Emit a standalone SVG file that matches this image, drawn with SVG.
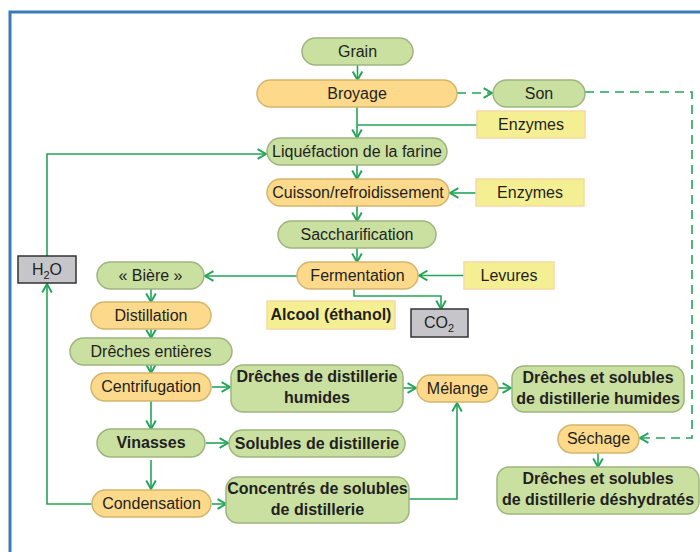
<svg xmlns="http://www.w3.org/2000/svg" width="700" height="552" viewBox="0 0 700 552">
<defs>
<marker id="ah" markerUnits="userSpaceOnUse" markerWidth="12" markerHeight="12" refX="8" refY="5" orient="auto" viewBox="0 0 10 10">
<path d="M1,1 L8,5 L1,9" fill="none" stroke="#23a559" stroke-width="1.6"/>
</marker>
<style>
text{font-family:"Liberation Sans",Arial,sans-serif;font-size:16px;fill:#231f20;text-anchor:middle}
.b{font-weight:bold}
.g{fill:#c9e0a1;stroke:#9db57d;stroke-width:1.5}
.o{fill:#fcd98b;stroke:#d4b56c;stroke-width:1.5}
.y{fill:#f5ef93;stroke:#f8d9a0;stroke-width:1.5}
.x{fill:#c6c6ca;stroke:#333;stroke-width:1.5}
.c{fill:none;stroke:#23a559;stroke-width:1.6}
.d{fill:none;stroke:#23a559;stroke-width:1.6;stroke-dasharray:9 6}
</style>
</defs>
<rect width="700" height="552" fill="#fff"/>
<path d="M10,560 V12 H705" fill="none" stroke="#3c79bb" stroke-width="3"/>

<g id="connectors">
<path class="c" d="M357.5,65 V80" marker-end="url(#ah)"/>
<path class="c" d="M357,107 V138" marker-end="url(#ah)"/>
<path class="c" d="M477,125 H357"/>
<path class="d" d="M457,93 H492" marker-end="url(#ah)"/>
<path class="d" d="M585,92 H692 V438 H640" marker-end="url(#ah)"/>
<path class="c" d="M357,165 V179" marker-end="url(#ah)"/>
<path class="c" d="M476,193 H450" marker-end="url(#ah)"/>
<path class="c" d="M357,206 V221" marker-end="url(#ah)"/>
<path class="c" d="M357,248 V262" marker-end="url(#ah)"/>
<path class="c" d="M464,275.5 H419" marker-end="url(#ah)"/>
<path class="c" d="M297,276 H205" marker-end="url(#ah)"/>
<path class="c" d="M354,289 V296 H441 V309" marker-end="url(#ah)"/>
<path class="c" d="M151,289 V302" marker-end="url(#ah)"/>
<path class="c" d="M151,329 V338" marker-end="url(#ah)"/>
<path class="c" d="M151,365 V373" marker-end="url(#ah)"/>
<path class="c" d="M212,387 H230" marker-end="url(#ah)"/>
<path class="c" d="M403,388 H416" marker-end="url(#ah)"/>
<path class="c" d="M498,388 H511" marker-end="url(#ah)"/>
<path class="c" d="M151,401 V429" marker-end="url(#ah)"/>
<path class="c" d="M206,443 H228" marker-end="url(#ah)"/>
<path class="c" d="M151,460 V489" marker-end="url(#ah)"/>
<path class="c" d="M212,504 H226" marker-end="url(#ah)"/>
<path class="c" d="M409,499 H457 V403" marker-end="url(#ah)"/>
<path class="c" d="M92,504 H47 V284" marker-end="url(#ah)"/>
<path class="c" d="M47,256 V154 H266" marker-end="url(#ah)"/>
<path class="c" d="M598,453 V467" marker-end="url(#ah)"/>
</g>

<g id="grain"><rect class="g" x="302" y="38" width="111" height="27" rx="13.5"/><text x="357.5" y="57">Grain</text></g>
<g id="broyage"><rect class="o" x="257" y="80" width="200" height="27" rx="13.5"/><text x="357" y="99">Broyage</text></g>
<g id="son"><rect class="g" x="493" y="80" width="92" height="27" rx="13.5"/><text x="539" y="99">Son</text></g>
<g id="enzymes1"><rect class="y" x="477" y="111" width="108" height="27"/><text x="531" y="130">Enzymes</text></g>
<g id="liquefaction"><rect class="g" x="267" y="138" width="180" height="27" rx="13.5"/><text x="357" y="157">Liquéfaction de la farine</text></g>
<g id="cuisson"><rect class="o" x="267" y="179" width="182" height="27" rx="13.5"/><text x="358" y="198">Cuisson/refroidissement</text></g>
<g id="enzymes2"><rect class="y" x="476" y="179" width="108" height="27"/><text x="530" y="198">Enzymes</text></g>
<g id="saccharification"><rect class="g" x="278" y="221" width="158" height="27" rx="13.5"/><text x="357" y="240">Saccharification</text></g>
<g id="fermentation"><rect class="o" x="297" y="262" width="121" height="27" rx="13.5"/><text x="357.5" y="281">Fermentation</text></g>
<g id="levures"><rect class="y" x="464" y="262" width="90" height="27"/><text x="509" y="281">Levures</text></g>
<g id="biere"><rect class="g" x="97" y="262" width="107" height="27" rx="13.5"/><text x="150.5" y="281">« Bière »</text></g>
<g id="h2o"><rect class="x" x="18" y="256" width="58" height="27"/><text x="47" y="275">H<tspan font-size="11" dy="4">2</tspan><tspan dy="-4">O</tspan></text></g>
<g id="co2"><rect class="x" x="411" y="309" width="57" height="28"/><text x="439" y="328">CO<tspan font-size="11" dy="4">2</tspan></text></g>
<g id="alcool"><rect class="y" x="267" y="301" width="128" height="28"/><text class="b" x="331" y="320">Alcool (éthanol)</text></g>
<g id="distillation"><rect class="o" x="91" y="302" width="120" height="27" rx="13.5"/><text x="151" y="321">Distillation</text></g>
<g id="dreches-entieres"><rect class="g" x="70" y="338" width="162" height="27" rx="13.5"/><text x="151" y="357">Drêches entières</text></g>
<g id="centrifugation"><rect class="o" x="91" y="373" width="120" height="28" rx="14"/><text x="151" y="392">Centrifugation</text></g>
<g id="ddh"><rect class="g" x="231" y="365" width="172" height="47" rx="12"/><text class="b" x="317" y="382">Drêches de distillerie</text><text class="b" x="317" y="403">humides</text></g>
<g id="melange"><rect class="o" x="417" y="375" width="81" height="27" rx="13.5"/><text x="457.5" y="394">Mélange</text></g>
<g id="desh"><rect class="g" x="512" y="366" width="172" height="46" rx="12"/><text class="b" x="598" y="383">Drêches et solubles</text><text class="b" x="598" y="404">de distillerie humides</text></g>
<g id="vinasses"><rect class="g" x="97" y="429" width="108" height="28" rx="14"/><text class="b" x="151" y="448">Vinasses</text></g>
<g id="solubles"><rect class="g" x="229" y="430" width="176" height="27" rx="13.5"/><text class="b" x="317" y="449">Solubles de distillerie</text></g>
<g id="sechage"><rect class="o" x="558" y="425" width="81" height="28" rx="14"/><text x="598.5" y="444">Séchage</text></g>
<g id="condensation"><rect class="o" x="92" y="490" width="119" height="27" rx="13.5"/><text x="151.5" y="509">Condensation</text></g>
<g id="concentres"><rect class="g" x="226" y="477" width="183" height="46" rx="12"/><text class="b" x="317.5" y="494">Concentrés de solubles</text><text class="b" x="317.5" y="515">de distillerie</text></g>
<g id="dsdd"><rect class="g" x="497" y="467" width="202" height="47" rx="12"/><text class="b" x="598" y="484">Drêches et solubles</text><text class="b" x="598" y="505">de distillerie déshydratés</text></g>
</svg>
